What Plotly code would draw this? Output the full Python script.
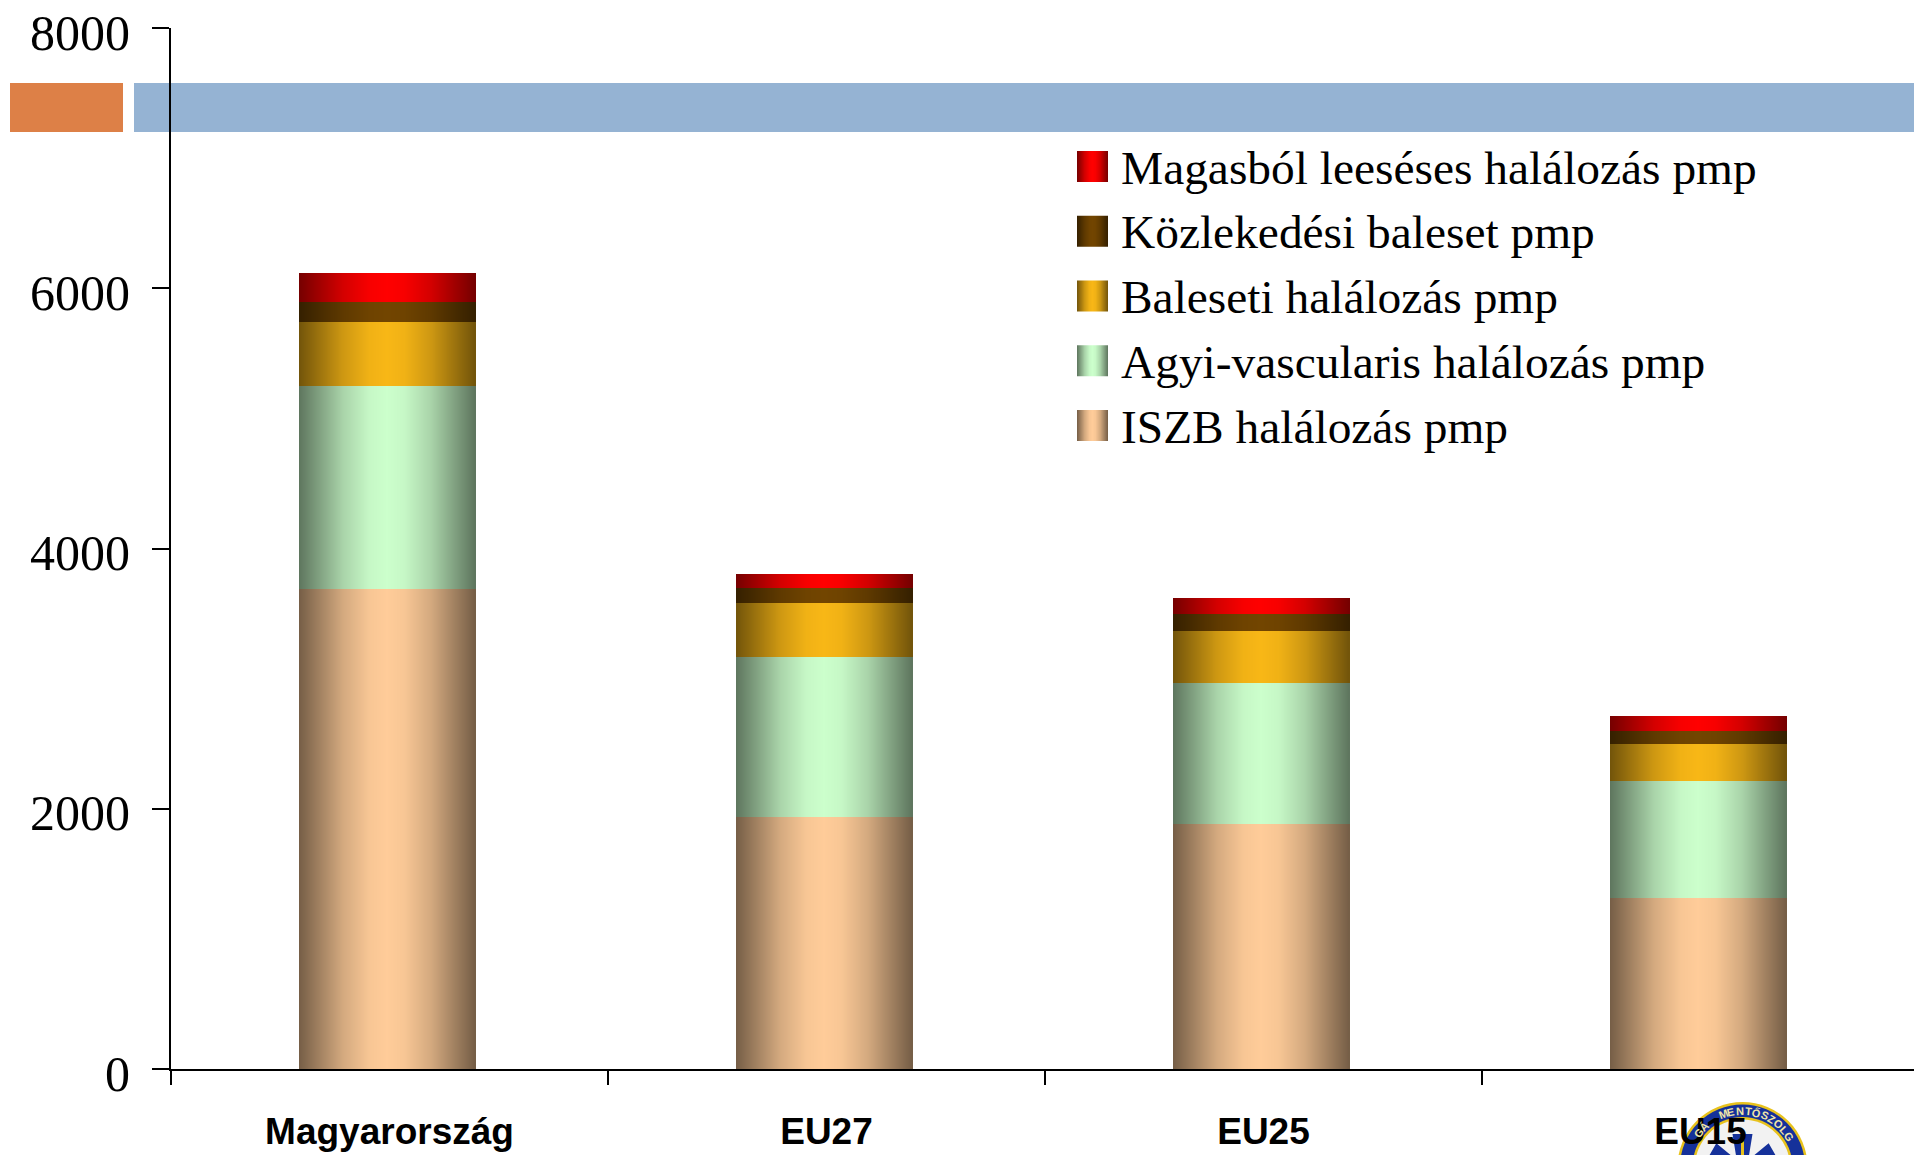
import math
import plotly.graph_objects as go

# ---- data ----
categories = ["Magyarország", "EU27", "EU25", "EU15"]
iszb = [3690, 1939, 1883, 1311]
agyi = [1555, 1227, 1086, 899]
baleseti = [497, 412, 394, 291]
kozlekedesi = [150, 122, 131, 94]
magasbol = [225, 103, 122, 121]
series_names = ["ISZB halálozás pmp", "Agyi-vascularis halálozás pmp", "Baleseti halálozás pmp",
                "Közlekedési baleset pmp", "Magasból leeséses halálozás pmp"]
series_values = [iszb, agyi, baleseti, kozlekedesi, magasbol]
center_colors = [(255, 204, 153), (204, 255, 204), (248, 183, 22), (114, 69, 0), (255, 0, 0)]
y_ticks = [0, 2000, 4000, 6000, 8000]

W, H = 1914, 1155
L, T, B = 171, 28, 86
CAT_PX = 437
BAR_W = 0.402
N_STRIPS = 176


def px(x):
    return (x - L) / (W - L)


def py(y):
    return 1 - (y - T) / (H - T - B)


def shade(color, t):
    """t=0 at the edge of a bar, t=1 in its centre."""
    stops = [(0, .46), (.5, .83), (.8, .97), (1, 1)]
    for (a, fa), (b, fb) in zip(stops, stops[1:]):
        if t <= b:
            f = fa + (fb - fa) * (t - a) / (b - a)
            break
    return "rgb(%d,%d,%d)" % tuple(round(c * f) for c in color)


fig = go.Figure()
strip = BAR_W / N_STRIPS
ts = [1 - abs((i + .5) / N_STRIPS - .5) * 2 for i in range(N_STRIPS)]
for name, vals, col in zip(series_names, series_values, center_colors):
    xs, ys, cs = [], [], []
    for k, v in enumerate(vals):
        for i in range(N_STRIPS):
            xs.append(k + .4954 - BAR_W / 2 + (i + .5) * strip)
            ys.append(v)
            cs.append(shade(col, ts[i]))
    fig.add_trace(go.Bar(x=xs, y=ys, width=strip, name=name, hoverinfo="name+y",
                         marker=dict(color=cs, line=dict(width=0))))

paper = dict(xref="paper", yref="paper")
shapes = [
    dict(type="rect", **paper, x0=px(10), x1=px(123), y0=py(83), y1=py(132),
         fillcolor="#DD8047", line_width=0, layer="below"),
    dict(type="rect", **paper, x0=px(134), x1=1, y0=py(83), y1=py(132),
         fillcolor="#95B3D3", line_width=0, layer="below"),
]

# emblem under the last category label
CX, CY = 1742.5, 1167
for r, c in [(65, "#E8C21C"), (62.5, "#15319A"), (50, "#E8C21C"), (47.5, "#F2F2F2")]:
    shapes.append(dict(type="circle", **paper, x0=px(CX - r), x1=px(CX + r),
                       y0=py(CY - r), y1=py(CY + r), fillcolor=c, line_width=0, layer="below"))
star = []
for a in range(6):
    ang = math.radians(60 * a)
    for dx, dy in [(-10, -36), (10, -36)]:
        star.append((CX + dx * math.cos(ang) - dy * math.sin(ang),
                     CY + 3 + dx * math.sin(ang) + dy * math.cos(ang)))
    ang2 = ang + math.radians(30)
    star.append((CX + 11.5 * math.sin(ang2), CY + 3 - 11.5 * math.cos(ang2)))
shapes.append(dict(type="path", **paper, fillcolor="#15319A", line_width=0, layer="below",
                   path="M " + " L ".join("%.5f,%.5f" % (px(a), py(b)) for a, b in star) + " Z"))
shapes.append(dict(type="rect", **paper, x0=px(CX - 1.5), x1=px(CX + 1.5), y0=py(CY - 28), y1=py(H),
                   fillcolor="#E8C21C", line_width=0, layer="below"))

annotations = []
ring_letters = [("M", -20), ("E", -12), ("N", -3), ("T", 6), ("Ő", 14), ("S", 23), ("Z", 31),
                ("O", 40), ("L", 48), ("G", 57), ("Á", -44), ("G", -52)]
for ch, deg in ring_letters:
    a = math.radians(deg)
    annotations.append(dict(text=ch, **paper, x=px(CX + 56 * math.sin(a)), y=py(CY - 56 * math.cos(a)),
                            showarrow=False, textangle=deg, xanchor="center", yanchor="middle",
                            font=dict(family="Liberation Sans", size=11, color="#EFE6A8", weight="bold")))

# legend with graded swatches
SW_X, SW_W, SW_H = 1077, 31, 31
row_tops = [151, 215.75, 280.5, 345.25, 410]
for row, (name, col) in enumerate(zip(series_names[::-1], center_colors[::-1])):
    top = row_tops[row]
    for i in range(SW_W):
        t = 1 - abs((i + .5) / SW_W - .5) * 2
        shapes.append(dict(type="rect", **paper, x0=px(SW_X + i), x1=px(SW_X + i + 1),
                           y0=py(top), y1=py(top + SW_H), fillcolor=shade(col, t), line_width=0))
    annotations.append(dict(text=name, **paper, x=px(1118.5), y=py(top + 16.5),
                            xanchor="left", yanchor="middle", showarrow=False,
                            font=dict(family="Liberation Serif", size=47.4, color="black")))

fig.update_layout(
    width=W, height=H, margin=dict(l=L, r=0, t=T, b=B, autoexpand=False),
    paper_bgcolor="white", plot_bgcolor="white", barmode="stack", bargap=0,
    showlegend=False, shapes=shapes, annotations=annotations,
    xaxis=dict(range=[0, (W - L) / CAT_PX], tickvals=[.5, 1.5, 2.5, 3.5], ticktext=categories,
               ticks="", showgrid=False, zeroline=False, showline=True, linecolor="black", linewidth=2,
               ticklabelstandoff=29,
               tickfont=dict(family="Liberation Sans", size=37, color="black", weight="bold"),
               minor=dict(tickvals=[0, 1, 2, 3], ticks="outside", ticklen=14, tickwidth=2,
                          tickcolor="black", showgrid=False)),
    yaxis=dict(range=[0, 8000], tickvals=y_ticks, ticks="outside", ticklen=17, tickwidth=2,
               tickcolor="black", showgrid=False, zeroline=False, showline=True, linecolor="black",
               linewidth=2, ticklabelstandoff=12, ticklabelshift=4,
               tickfont=dict(family="Liberation Serif", size=50, color="black")),
)

fig.write_html("out.html", config=dict(displayModeBar=False),
               post_script="document.body.style.margin='0';document.body.style.overflow='hidden';")
